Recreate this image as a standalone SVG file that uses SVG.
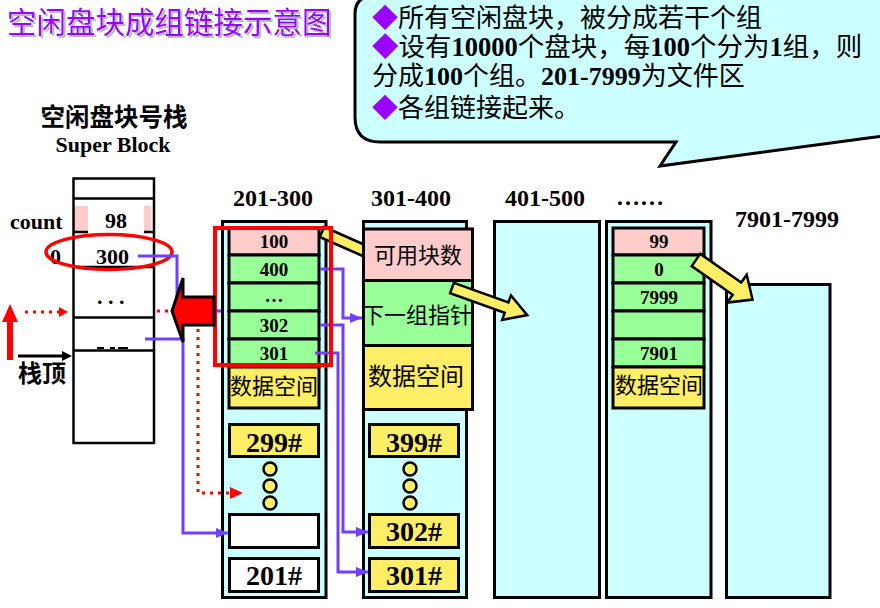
<svg xmlns="http://www.w3.org/2000/svg" width="880" height="608" viewBox="0 0 880 608">
<defs>
<style>
.cjk{font-family:"Noto Sans CJK SC",sans-serif;}
.num{font-family:"Liberation Serif","Noto Sans CJK SC",serif;font-weight:bold;}
.hdr{font-family:"Liberation Serif",serif;font-weight:bold;font-size:24px;text-anchor:middle;fill:#000;}
.cell{font-family:"Liberation Serif",serif;font-weight:bold;font-size:19px;text-anchor:middle;fill:#000;}
.big{font-family:"Liberation Serif",serif;font-weight:bold;font-size:28px;text-anchor:middle;fill:#000;}
.cz{font-family:"Noto Sans CJK SC",sans-serif;text-anchor:middle;fill:#000;}
.box{stroke:#000;stroke-width:3;}
.cyan{fill:#CCFFFF;}
.pink{fill:#FFCCCC;}
.green{fill:#99FF99;}
.yellow{fill:#FFEE66;}
.white{fill:#FFFFFF;}
.pl{fill:none;stroke:#7040FF;stroke-width:3;}
.dot{fill:none;stroke:#FF0000;stroke-width:3;stroke-dasharray:3 5;}
.yarrow{fill:#FFEE66;stroke:#000;stroke-width:2.5;stroke-linejoin:miter;}
.dia{font-family:"Noto Sans CJK SC",sans-serif;fill:#9900FF;}
.stk{font-family:"Liberation Serif",serif;font-weight:bold;font-size:22px;fill:#000;}
</style>
<filter id="shadow" x="-5%" y="-20%" width="110%" height="150%">
<feFlood flood-color="#BBBBBB" result="c"/>
<feComposite in="c" in2="SourceAlpha" operator="in" result="s"/>
<feOffset in="s" dx="2" dy="2" result="o"/>
<feMerge><feMergeNode in="o"/><feMergeNode in="SourceGraphic"/></feMerge>
</filter>
<marker id="pa" markerWidth="12" markerHeight="10" refX="12" refY="5" orient="auto" markerUnits="userSpaceOnUse">
<path d="M0,0 L12,5 L0,10 Z" fill="#7040FF"/>
</marker>
</defs>
<rect width="880" height="608" fill="#FFFFFF"/>

<g id="title">
<text x="7" y="33" class="cjk" font-size="29.5" fill="#9900FF" filter="url(#shadow)">空闲盘块成组链接示意图</text>
</g>

<g id="callout">
<path d="M355,14 Q355,-4 374,-4 L885,-4 L885,136 L868,138 L660,166 L676,142 L380,142 Q355,142 355,117 Z" fill="#CCFFFF" stroke="#000" stroke-width="3" stroke-linejoin="miter"/>
<text x="372" y="27" class="cjk" font-size="26" fill="#000"><tspan class="dia">◆</tspan>所有空闲盘块，被分成若干个组</text>
<text x="372" y="56" class="cjk" font-size="26.5" fill="#000"><tspan class="dia">◆</tspan>设有<tspan class="num">10000</tspan>个盘块，每<tspan class="num">100</tspan>个分为<tspan class="num">1</tspan>组，则</text>
<text x="372" y="85" class="cjk" font-size="26" fill="#000">分成<tspan class="num">100</tspan>个组。<tspan class="num">201-7999</tspan>为文件区</text>
<text x="372" y="117" class="cjk" font-size="26" fill="#000"><tspan class="dia">◆</tspan>各组链接起来。</text>
</g>

<g id="stack">
<text x="114" y="126" class="cjk" font-size="24.5" font-weight="bold" text-anchor="middle" fill="#000">空闲盘块号栈</text>
<text x="113" y="152" class="stk" text-anchor="middle">Super Block</text>
<rect x="74" y="206" width="14" height="26" class="pink"/>
<rect x="144" y="206" width="7" height="26" class="pink"/>
<rect x="73.5" y="178.5" width="80.5" height="264.5" fill="none" stroke="#000" stroke-width="2.5"/>
<line x1="73" y1="198.5" x2="154" y2="198.5" stroke="#000" stroke-width="2.5"/>
<line x1="73" y1="232" x2="88" y2="232" stroke="#000" stroke-width="2.5"/>
<line x1="144" y1="232" x2="154" y2="232" stroke="#000" stroke-width="2.5"/>
<line x1="73" y1="267" x2="154" y2="267" stroke="#000" stroke-width="2.5"/>
<line x1="73" y1="317.5" x2="154" y2="317.5" stroke="#000" stroke-width="2.5"/>
<line x1="73" y1="350.5" x2="154" y2="350.5" stroke="#000" stroke-width="2.5"/>
<path d="M97,348 H104 M110,348 H115 M118,348 H128" stroke="#000" stroke-width="2"/>
<text x="10" y="229" class="stk" font-size="23">count</text>
<text x="116" y="228" class="stk" text-anchor="middle">98</text>
<text x="50" y="264" class="stk">0</text>
<text x="96" y="264" class="stk">300</text>
<text x="97" y="304" class="stk">. . .</text>
<ellipse cx="109" cy="252" rx="63" ry="17.5" fill="none" stroke="#FF0000" stroke-width="3.5"/>
</g>

<g id="stack-top">
<polygon points="10,304 2,322 7,322 7,360 13,360 13,322 18,322" fill="#FF0000"/>
<line x1="18" y1="356" x2="64" y2="356" stroke="#000" stroke-width="3"/>
<polygon points="62,351 72,356 62,361" fill="#000"/>
<text x="18" y="382" class="cjk" font-size="24" font-weight="bold" fill="#000">栈顶</text>
</g>

<g id="group-201-300">
<text x="273" y="206" class="hdr">201-300</text>
<rect x="222.5" y="221.5" width="103.5" height="376" class="box cyan"/>
<rect x="229" y="228" width="90" height="27" class="box pink"/>
<rect x="229" y="255" width="90" height="28" class="box green"/>
<rect x="229" y="283" width="90" height="28" class="box green"/>
<rect x="229" y="311" width="90" height="28" class="box green"/>
<rect x="229" y="339" width="90" height="28" class="box green"/>
<rect x="229" y="367" width="90" height="41" class="box yellow"/>
<text x="274" y="248" class="cell">100</text>
<text x="274" y="276" class="cell">400</text>
<text x="274" y="302" class="cell">…</text>
<text x="274" y="332" class="cell">302</text>
<text x="274" y="360" class="cell">301</text>
<text x="274" y="394" class="cz" font-size="22">数据空间</text>
<rect x="229.5" y="424.5" width="89" height="32" class="box yellow"/>
<text x="274" y="452" class="big">299#</text>
<circle cx="270" cy="469" r="6.5" class="yellow" stroke="#000" stroke-width="2.5"/>
<circle cx="270" cy="486" r="6.5" class="yellow" stroke="#000" stroke-width="2.5"/>
<circle cx="270" cy="503" r="6.5" class="yellow" stroke="#000" stroke-width="2.5"/>
<rect x="229.5" y="514.5" width="89" height="33" class="box white"/>
<rect x="229.5" y="558.5" width="89" height="33" class="box white"/>
<text x="274" y="585" class="big">201#</text>
</g>

<g id="group-401-500">
<text x="545" y="206" class="hdr">401-500</text>
<rect x="494.5" y="221.5" width="105" height="376" class="box cyan"/>
</g>

<g id="group-dots">
<text x="640" y="205" class="hdr">……</text>
<rect x="606.5" y="221.5" width="104.5" height="376" class="box cyan"/>
<rect x="613" y="228" width="91" height="27" class="box pink"/>
<rect x="613" y="255" width="91" height="28" class="box green"/>
<rect x="613" y="283" width="91" height="28" class="box green"/>
<rect x="613" y="311" width="91" height="28" class="box green"/>
<rect x="613" y="339" width="91" height="28" class="box green"/>
<rect x="613" y="367" width="91" height="41" class="box yellow"/>
<text x="659" y="248" class="cell">99</text>
<text x="659" y="276" class="cell">0</text>
<text x="659" y="304" class="cell">7999</text>
<text x="659" y="360" class="cell">7901</text>
<text x="659" y="393" class="cz" font-size="22">数据空间</text>
</g>

<g id="group-7901-7999">
<text x="787" y="227" class="hdr">7901-7999</text>
<rect x="726.5" y="284.5" width="103.5" height="313" class="box cyan"/>
</g>

<g id="connectors">
<polygon points="324.3,227 367.3,246 362.7,256 319.7,237" class="yarrow"/>
</g>

<g id="group-301-400">
<text x="411" y="206" class="hdr">301-400</text>
<rect x="363.5" y="221.5" width="103" height="376" class="box cyan"/>
<rect x="363.5" y="229" width="109" height="51.5" class="box pink"/>
<rect x="363.5" y="280.5" width="109" height="65" class="box green"/>
<rect x="363.5" y="345.5" width="109" height="64" class="box yellow"/>
<text x="418" y="263" class="cz" font-size="22">可用块数</text>
<text x="417" y="323" class="cz" font-size="22">下一组指针</text>
<text x="416" y="385" class="cz" font-size="24">数据空间</text>
<rect x="369.5" y="424.5" width="89" height="32" class="box yellow"/>
<text x="414" y="452" class="big">399#</text>
<circle cx="410" cy="469" r="6.5" class="yellow" stroke="#000" stroke-width="2.5"/>
<circle cx="410" cy="486" r="6.5" class="yellow" stroke="#000" stroke-width="2.5"/>
<circle cx="410" cy="503" r="6.5" class="yellow" stroke="#000" stroke-width="2.5"/>
<rect x="369.5" y="514.5" width="89" height="33" class="box yellow"/>
<text x="414" y="541" class="big">302#</text>
<rect x="369.5" y="558.5" width="89" height="33" class="box yellow"/>
<text x="414" y="585" class="big">301#</text>
</g>

<g id="links">
<path d="M138,256 H177 V311 H221" class="pl" marker-end="url(#pa)"/>
<path d="M145,339 H183 V533 H228" class="pl" marker-end="url(#pa)"/>
<path d="M320,269 H343 V318 H362" class="pl" marker-end="url(#pa)"/>
<path d="M320,325 H343 V532 H368" class="pl" marker-end="url(#pa)"/>
<path d="M315,353 H338 V572 H368" class="pl" marker-end="url(#pa)"/>
<rect x="215" y="228" width="116" height="137" fill="none" stroke="#FF0000" stroke-width="4"/>
<polygon points="172,311 183,278 183,297 214,297 214,325 183,325 183,342" fill="#FF0000" stroke="#000" stroke-width="3" stroke-linejoin="miter"/>
<path d="M157,311 H170" class="dot"/>
<path d="M198,329 V493 H229" class="dot"/>
<polygon points="230,487 243,493 230,499" fill="#FF0000"/>
<path d="M25,312 H59" class="dot"/>
<polygon points="59,307 68,312 59,317" fill="#FF0000"/>
<g transform="translate(452,288) rotate(19.8)">
<polygon points="0,-5.5 58,-5.5 58,-13 80,0 58,13 58,5.5 0,5.5" class="yarrow"/>
</g>
<g transform="translate(696,260) rotate(35)">
<polygon points="0,-7.5 50,-7.5 50,-17 69,0 50,17 50,7.5 0,7.5" class="yarrow"/>
</g>
</g>
</svg>
